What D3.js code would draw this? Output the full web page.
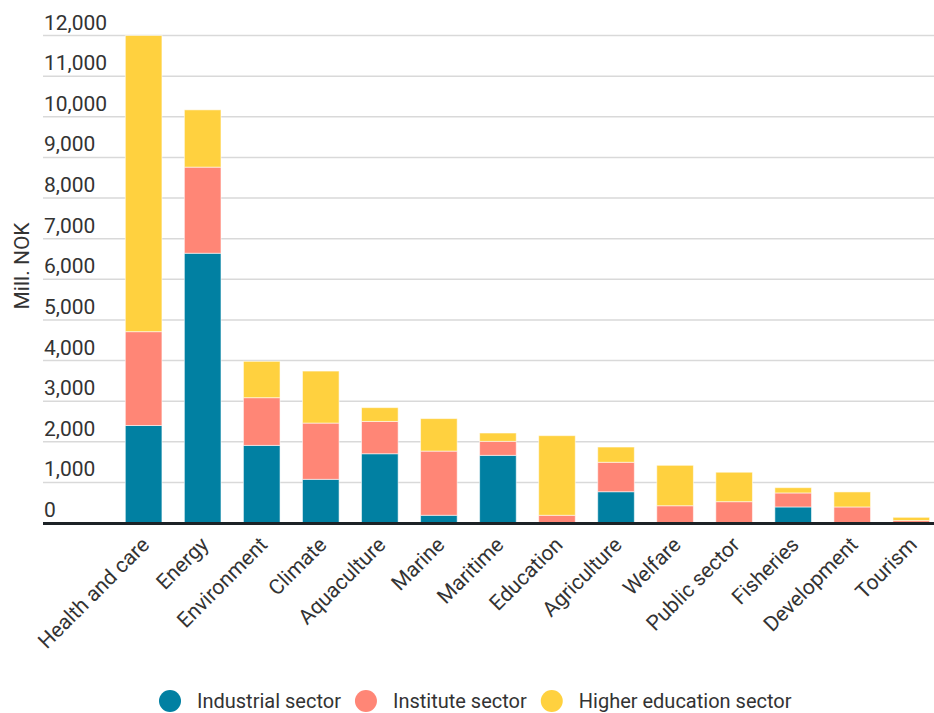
<!DOCTYPE html>
<html>
<head>
<meta charset="utf-8">
<script src="https://cdn.jsdelivr.net/npm/d3@7"></script>
<style>
  html, body { margin: 0; padding: 0; background: #fff; }
  svg { display: block; font-family: Roboto, "Noto Sans", sans-serif; }
</style>
</head>
<body>
<svg id="chart" width="934" height="713"></svg>
<script>
// R&D expenditure by thematic area, split by performing sector (Mill. NOK)
const categories = ["Health and care", "Energy", "Environment", "Climate", "Aquaculture", "Marine",
  "Maritime", "Education", "Agriculture", "Welfare", "Public sector", "Fisheries", "Development", "Tourism"];
const industrial = [2400, 6640, 1910, 1075, 1705, 190, 1665, 0, 770, 0, 0, 395, 0, 0];
const institute = [2310, 2120, 1175, 1385, 795, 1580, 345, 190, 725, 425, 525, 345, 395, 60];
const higherEducation = [7290, 1410, 895, 1280, 340, 800, 205, 1960, 375, 995, 725, 130, 370, 80];
const seriesNames = ["Industrial sector", "Institute sector", "Higher education sector"];
const seriesColors = ["#0180a2", "#ff8676", "#ffd13f"];
const yTicks = [0, 1000, 2000, 3000, 4000, 5000, 6000, 7000, 8000, 9000, 10000, 11000, 12000];

const svg = d3.select("#chart");
const W = 934;
const gridLeft = 43, baseY = 523, topY = 35.5;

const rows = categories.map((c, i) => ({
  category: c,
  [seriesNames[0]]: industrial[i],
  [seriesNames[1]]: institute[i],
  [seriesNames[2]]: higherEducation[i]
}));
const stacked = d3.stack().keys(seriesNames)(rows);

const x = d3.scaleBand()
  .domain(categories)
  .range([114.1, 940.8])
  .paddingInner(0.38)
  .paddingOuter(0.19);
const y = d3.scaleLinear().domain([0, 12000]).range([baseY, topY]);
const color = d3.scaleOrdinal().domain(seriesNames).range(seriesColors);
const fmt = d3.format(",");

// horizontal gridlines with labels sitting above each line
const grid = svg.append("g");
grid.selectAll("line").data(yTicks.filter(t => t > 0)).join("line")
  .attr("x1", gridLeft).attr("x2", W)
  .attr("y1", d => y(d)).attr("y2", d => y(d))
  .attr("stroke", "#d9d9d9").attr("stroke-width", 1.5);
grid.selectAll("text").data(yTicks).join("text")
  .attr("x", gridLeft + 1).attr("y", d => y(d) - 6)
  .attr("fill", "#333").attr("font-size", 21)
  .text(d => fmt(d));

// y-axis title
svg.append("text")
  .attr("transform", `translate(29, 266) rotate(-90)`)
  .attr("text-anchor", "middle")
  .attr("fill", "#333").attr("font-size", 21)
  .text("Mill. NOK");

// stacked bars
svg.append("g").selectAll("g").data(stacked).join("g")
  .attr("fill", d => color(d.key))
  .selectAll("rect").data(d => d).join("rect")
  .attr("x", d => x(d.data.category))
  .attr("width", x.bandwidth())
  .attr("y", d => y(d[1]))
  .attr("height", d => Math.max(0, y(d[0]) - y(d[1])))
  .attr("stroke", "#fff").attr("stroke-opacity", 0.55).attr("stroke-width", 1);

// baseline
svg.append("line")
  .attr("x1", gridLeft).attr("x2", W)
  .attr("y1", baseY + 0.5).attr("y2", baseY + 0.5)
  .attr("stroke", "#1c2226").attr("stroke-width", 3);

// rotated category labels
svg.append("g").selectAll("text").data(categories).join("text")
  .attr("transform", d => `translate(${x(d) + x.bandwidth() / 2 + 7}, 546) rotate(-45)`)
  .attr("text-anchor", "end")
  .attr("fill", "#333").attr("font-size", 21)
  .text(d => d);

// legend
const legend = svg.append("g");
let lx = 159;
seriesNames.forEach((name, i) => {
  const item = legend.append("g");
  item.append("circle").attr("cx", lx + 11).attr("cy", 701).attr("r", 11).attr("fill", seriesColors[i]);
  const t = item.append("text")
    .attr("x", lx + 38).attr("y", 701).attr("dy", "0.35em")
    .attr("fill", "#333").attr("font-size", 20)
    .text(name);
  lx = lx + 38 + t.node().getComputedTextLength() + 14;
});
</script>
</body>
</html>
